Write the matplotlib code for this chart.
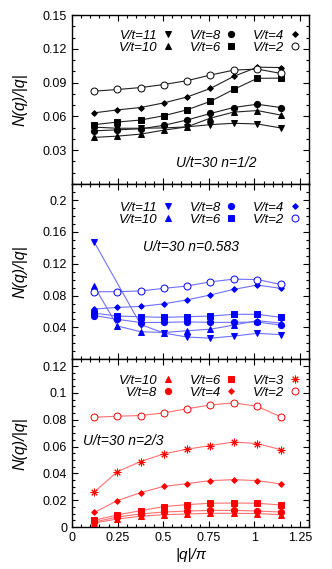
import numpy as np
import matplotlib
matplotlib.use("Agg")
import matplotlib.pyplot as plt
from matplotlib.lines import Line2D
from matplotlib.ticker import MultipleLocator

plt.rcParams['font.family'] = ['Liberation Sans', 'DejaVu Sans']

# |q|/pi positions
q = [0.122, 0.249, 0.376, 0.503, 0.630, 0.759, 0.886, 1.016, 1.144]

# U/t=30, n=1/2
top_labels = ["V/t=11", "V/t=10", "V/t=8", "V/t=6", "V/t=4", "V/t=2"]
top_v11 = [0.0505, 0.0495, 0.0495, 0.0498, 0.0507, 0.0527, 0.0539, 0.0533, 0.0498]
top_v10 = [0.0414, 0.0425, 0.0443, 0.0478, 0.0507, 0.0585, 0.0638, 0.0652, 0.0612]
top_v8 = [0.0472, 0.0481, 0.0490, 0.0521, 0.0568, 0.0626, 0.0679, 0.0708, 0.0679]
top_v6 = [0.0527, 0.0550, 0.0568, 0.0606, 0.0658, 0.0734, 0.0839, 0.0938, 0.0940]
top_v4 = [0.0632, 0.0658, 0.0679, 0.0720, 0.0772, 0.0848, 0.0955, 0.1037, 0.1034]
top_v2 = [0.0824, 0.0839, 0.0856, 0.0883, 0.0917, 0.0967, 0.1011, 0.1020, 0.0982]

# U/t=30, n=0.583  (V/t=11 has no point at the second q)
mid_labels = ["V/t=11", "V/t=10", "V/t=8", "V/t=6", "V/t=4", "V/t=2"]
mid_v11 = [0.147, None, 0.0437, 0.0330, 0.0280, 0.0265, 0.0292, 0.0326, 0.0310]
mid_v10 = [0.0915, 0.0418, 0.0347, 0.0336, 0.0359, 0.0378, 0.0430, 0.0485, 0.0455]
mid_v8 = [0.0550, 0.0502, 0.0462, 0.0464, 0.0470, 0.0464, 0.0464, 0.0468, 0.0430]
mid_v6 = [0.0580, 0.0543, 0.0535, 0.0527, 0.0535, 0.0543, 0.0565, 0.0565, 0.0527]
mid_v4 = [0.0631, 0.0652, 0.0664, 0.0697, 0.0746, 0.0808, 0.0878, 0.0932, 0.0891]
mid_v2 = [0.0849, 0.0849, 0.0858, 0.0891, 0.0920, 0.0973, 0.1006, 0.1002, 0.0940]

# U/t=30, n=2/3
bot_labels = ["V/t=10", "V/t=8", "V/t=6", "V/t=4", "V/t=3", "V/t=2"]
bot_v10 = [0.0030, 0.0060, 0.0080, 0.0092, 0.0097, 0.0102, 0.0102, 0.0100, 0.0092]
bot_v8 = [0.0037, 0.0075, 0.0097, 0.0112, 0.0119, 0.0124, 0.0124, 0.0119, 0.0112]
bot_v6 = [0.0050, 0.0090, 0.0122, 0.0152, 0.0167, 0.0177, 0.0179, 0.0177, 0.0164]
bot_v4 = [0.0109, 0.0197, 0.0256, 0.0303, 0.0323, 0.0346, 0.0353, 0.0346, 0.0321]
bot_v3 = [0.0261, 0.0413, 0.0488, 0.0545, 0.0580, 0.0607, 0.0634, 0.0622, 0.0577]
bot_v2 = [0.0818, 0.0826, 0.0831, 0.0851, 0.0881, 0.0910, 0.0925, 0.0900, 0.0821]

# marker style per label: (marker, size, filled)
styles = {
    "V/t=11": ("v", 4.3, True),
    "V/t=10": ("^", 4.3, True),
    "V/t=8": ("o", 4.5, True),
    "V/t=6": ("s", 4.3, True),
    "V/t=4": ("D", 2.9, True),
    "V/t=3": ((8, 2, 0), 5.5, True),
    "V/t=2": ("o", 5.0, False),
}


def draw_panel(ax, labels, series, mcol, lcol, legtop):
    handles = []
    for lab, vals in zip(labels, series):
        m, ms, filled = styles[lab]
        x = [xx for xx, v in zip(q, vals) if v is not None]
        y = [v for v in vals if v is not None]
        ax.plot(x, y, '-', color=lcol, lw=0.8, zorder=2)
        kw = dict(marker=m, ms=ms, mec=mcol, mew=0.7, ls='none',
                  mfc=mcol if filled else 'white')
        ax.plot(x, y, zorder=3, **kw)
        handles.append(Line2D([], [], **kw))
    ax.legend(handles, labels, ncol=3, markerfirst=False, frameon=False,
              loc='upper right', bbox_to_anchor=(0.965, legtop),
              borderaxespad=0, borderpad=0,
              handlelength=0.9, handletextpad=0.35, columnspacing=1.2,
              labelspacing=0.0, prop={'style': 'italic', 'size': 9.5})
    ax.set_xlim(0, 1.3)
    ax.xaxis.set_major_locator(MultipleLocator(0.25))
    ax.xaxis.set_minor_locator(MultipleLocator(0.05))
    ax.tick_params(which='both', direction='in', top=True, right=True,
                   labelsize=9, width=0.8)
    ax.tick_params(which='major', length=4)
    ax.tick_params(which='minor', length=2)
    for sp in ax.spines.values():
        sp.set_linewidth(1.0)
    ax.set_ylabel("N(q)/|q|", fontstyle='italic', fontsize=11.5, labelpad=11)


fig = plt.figure(figsize=(3.32, 5.69), dpi=100)
ax1 = fig.add_axes([0.217, 0.6766, 0.714, 0.297])
ax2 = fig.add_axes([0.217, 0.3685, 0.714, 0.308])
ax3 = fig.add_axes([0.217, 0.0738, 0.714, 0.2947])

draw_panel(ax1, top_labels, [top_v11, top_v10, top_v8, top_v6, top_v4, top_v2],
           'black', '#222222', 0.915)
ax1.set_ylim(0, 0.15)
ax1.set_yticks([0.03, 0.06, 0.09, 0.12, 0.15])
ax1.set_yticklabels(["0.03", "0.06", "0.09", "0.12", "0.15"])
ax1.yaxis.set_minor_locator(MultipleLocator(0.01))
ax1.tick_params(labelbottom=False)
ax1.text(0.61, 0.124, "U/t=30 n=1/2", transform=ax1.transAxes, ha='center',
         va='center', fontstyle='italic', fontsize=10)

draw_panel(ax2, mid_labels, [mid_v11, mid_v10, mid_v8, mid_v6, mid_v4, mid_v2],
           '#0000ff', '#7070ff', 0.90)
ax2.set_ylim(0, 0.22)
ax2.set_yticks([0.04, 0.08, 0.12, 0.16, 0.2])
ax2.set_yticklabels(["0.04", "0.08", "0.12", "0.16", "0.2"])
ax2.yaxis.set_minor_locator(MultipleLocator(0.01))
ax2.tick_params(labelbottom=False)
ax2.text(0.50, 0.642, "U/t=30 n=0.583", transform=ax2.transAxes, ha='center',
         va='center', fontstyle='italic', fontsize=10)

draw_panel(ax3, bot_labels, [bot_v10, bot_v8, bot_v6, bot_v4, bot_v3, bot_v2],
           '#ff0000', '#ff7070', 0.91)
ax3.set_ylim(0, 0.125)
ax3.set_yticks([0, 0.02, 0.04, 0.06, 0.08, 0.1, 0.12])
ax3.set_yticklabels(["0", "0.02", "0.04", "0.06", "0.08", "0.1", "0.12"])
ax3.yaxis.set_minor_locator(MultipleLocator(0.005))
ax3.set_xticks([0, 0.25, 0.5, 0.75, 1, 1.25])
ax3.set_xticklabels(["0", "0.25", "0.5", "0.75", "1", "1.25"])
ax3.text(0.046, 0.51, "U/t=30 n=2/3", transform=ax3.transAxes, ha='left',
         va='center', fontstyle='italic', fontsize=10)
ax3.set_xlabel("|q|/\u03c0", fontstyle='italic', fontsize=11, labelpad=3)

fig.savefig("out.png", dpi=100)
